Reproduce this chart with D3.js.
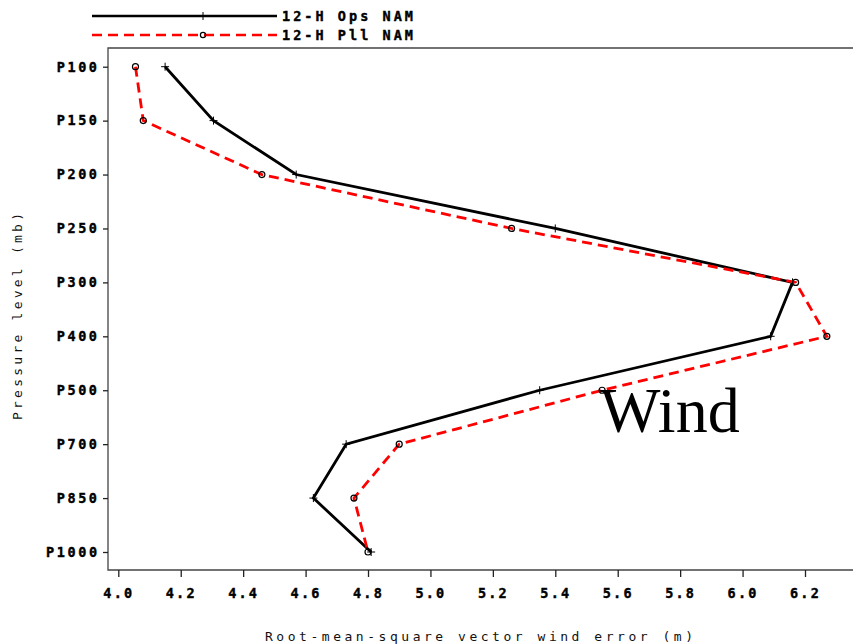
<!DOCTYPE html>
<html><head><meta charset="utf-8">
<script src="https://cdn.jsdelivr.net/npm/d3@7"></script>
<style>body{margin:0;background:#fff}svg{display:block}</style>
</head><body>
<script>
const levels = ["P100","P150","P200","P250","P300","P400","P500","P700","P850","P1000"];
const opsValues = [4.15, 4.305, 4.57, 5.40, 6.16, 6.09, 5.35, 4.73, 4.625, 4.81];
const pllValues = [4.055, 4.08, 4.46, 5.26, 6.17, 6.27, 5.55, 4.90, 4.755, 4.80];
const xTicks = [4.0, 4.2, 4.4, 4.6, 4.8, 5.0, 5.2, 5.4, 5.6, 5.8, 6.0, 6.2];
const seriesNames = ["12-H Ops NAM", "12-H Pll NAM"];

(function () {
const W = 853, H = 644;
const svg = d3.select("body").append("svg").attr("width", W).attr("height", H);
const font = "'DejaVu Sans Mono', monospace";

const mLeft = 108, mTop = 48, mBottom = 570;
const x = d3.scaleLinear().domain([4.0, 6.2]).range([118.3, 805]);
const y = d3.scalePoint().domain(levels).range([66.7, 552]);

// frame
svg.append("path")
  .attr("d", `M${W+5},${mTop}H${mLeft}V${mBottom}H${W+5}`)
  .attr("fill", "none").attr("stroke", "#444").attr("stroke-width", 1.3);

// x axis
const xa = svg.append("g").attr("transform", `translate(0,${mBottom})`)
  .call(d3.axisBottom(x).tickValues(xTicks).tickFormat(d3.format(".1f")).tickSize(7).tickSizeOuter(0));
xa.select(".domain").remove();
xa.selectAll("line").attr("stroke", "#222").attr("stroke-width", 1.3);
xa.selectAll("text").attr("font-family", font).attr("font-weight", "bold")
  .attr("font-size", 13.5).attr("fill", "#000").attr("y", 18).attr("dy", "0.71em")
  .attr("letter-spacing", 2.2).attr("stroke", "#000").attr("stroke-width", 0.4);

// y axis
const ya = svg.append("g").attr("transform", `translate(${mLeft},0)`)
  .call(d3.axisLeft(y).tickSize(5).tickSizeOuter(0).tickPadding(6));
ya.select(".domain").remove();
ya.selectAll("line").attr("stroke", "#222").attr("stroke-width", 1.3);
ya.selectAll("text").attr("font-family", font).attr("font-weight", "bold")
  .attr("font-size", 13.5).attr("fill", "#000").attr("letter-spacing", 2.6).attr("dx", 2.6)
  .attr("stroke", "#000").attr("stroke-width", 0.4);

// axis titles
svg.append("text").attr("x", 265).attr("y", 641)
  .attr("font-family", font).attr("font-size", 13).attr("fill", "#111")
  .attr("textLength", 428).attr("lengthAdjust", "spacing")
  .text("Root-mean-square vector wind error (m)");
svg.append("text").attr("transform", "translate(22,420) rotate(-90)")
  .attr("font-family", font).attr("font-size", 13).attr("fill", "#111")
  .attr("textLength", 207).attr("lengthAdjust", "spacing")
  .text("Pressure level (mb)");

const line = d3.line().x(d => x(d.v)).y(d => y(d.l));
const ops = levels.map((l, i) => ({l, v: opsValues[i]}));
const pll = levels.map((l, i) => ({l, v: pllValues[i]}));

svg.append("path").datum(ops).attr("d", line)
  .attr("fill", "none").attr("stroke", "#000").attr("stroke-width", 2.8).attr("stroke-linejoin", "miter");
svg.selectAll(".plus").data(ops).join("path")
  .attr("d", d => `M${x(d.v)-4},${y(d.l)}h8M${x(d.v)},${y(d.l)-4}v8`)
  .attr("stroke", "#000").attr("stroke-width", 1);

svg.append("path").datum(pll).attr("d", line)
  .attr("fill", "none").attr("stroke", "#f00").attr("stroke-width", 2.8)
  .attr("stroke-dasharray", "10,6");
svg.selectAll(".circ").data(pll).join("circle")
  .attr("cx", d => x(d.v)).attr("cy", d => y(d.l)).attr("r", 3)
  .attr("fill", "none").attr("stroke", "#000").attr("stroke-width", 1.2);

// legend
const lg = svg.append("g");
lg.append("line").attr("x1", 92).attr("x2", 277).attr("y1", 16).attr("y2", 16)
  .attr("stroke", "#000").attr("stroke-width", 2.4);
lg.append("path").attr("d", "M203,12v8").attr("stroke", "#000").attr("stroke-width", 1);
lg.append("line").attr("x1", 92).attr("x2", 277).attr("y1", 35).attr("y2", 35)
  .attr("stroke", "#f00").attr("stroke-width", 2.6).attr("stroke-dasharray", "10,6");
lg.append("circle").attr("cx", 203).attr("cy", 35).attr("r", 2.6)
  .attr("fill", "none").attr("stroke", "#000").attr("stroke-width", 1.2);
lg.selectAll(".lt").data(seriesNames).join("text")
  .attr("x", 282).attr("y", (d, i) => 21 + i * 18.5)
  .attr("font-family", font).attr("font-weight", "bold").attr("font-size", 13.5)
  .attr("fill", "#000").attr("stroke", "#000").attr("stroke-width", 0.4)
  .attr("textLength", 131).attr("lengthAdjust", "spacing")
  .text(d => d);

// overlay annotation
svg.append("text").attr("x", 600).attr("y", 432)
  .attr("font-family", "'Liberation Serif', 'Times New Roman', serif")
  .attr("font-size", 64).attr("fill", "#000").text("Wind");
})();
</script>
</body></html>
